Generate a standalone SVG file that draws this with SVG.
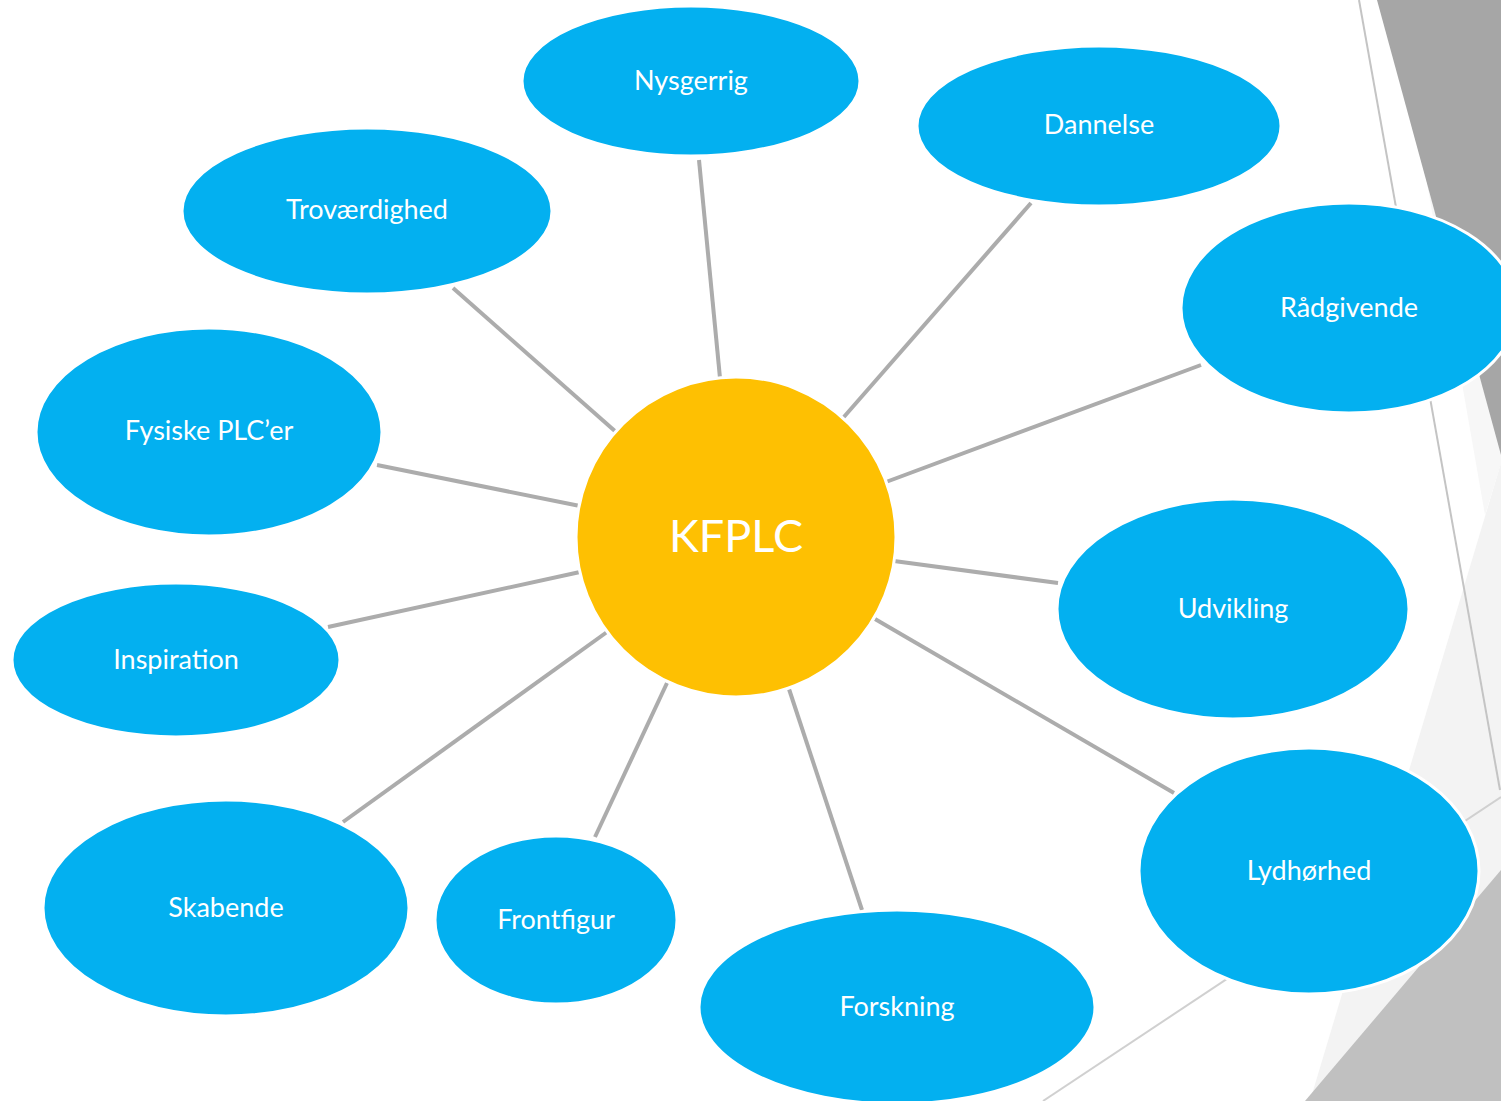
<svg xmlns="http://www.w3.org/2000/svg" width="1501" height="1101" viewBox="0 0 1501 1101">
<style>
.node ellipse, .node circle { stroke: #ffffff; stroke-width: 3; }
.leaf { fill: #03b0f0; }
.hub { fill: #fec002; }
.lbl { font-family: Lato, "Open Sans", sans-serif; font-size: 27px; fill: #ffffff; text-anchor: middle; }
.big { font-family: Lato, "Open Sans", sans-serif; font-size: 45px; fill: #ffffff; text-anchor: middle; }
.conn line { stroke: #acacac; stroke-width: 4; }
</style>
<rect width="1501" height="1101" fill="#ffffff"/>
<g id="background">
  <polygon points="1395,0 1501,0 1501,463 1485,515" fill="#f7f7f7"/>
  <polygon points="1501,463 1501,1101 1310,1101" fill="#f3f3f3"/>
  <polygon points="1501,870 1501,1101 1305,1101" fill="#c0c0c0"/>
  <polygon points="1377,0 1501,0 1501,455" fill="#a6a6a6"/>
  <line x1="1359" y1="0" x2="1500" y2="790" stroke="#c4c4c4" stroke-width="2"/>
  <line x1="1501" y1="797" x2="1043" y2="1101" stroke="#d0d0d0" stroke-width="2"/>
</g>
<g id="connectors" class="conn">
  <line x1="699" y1="160" x2="720" y2="378"/>
  <line x1="1031" y1="203" x2="843" y2="418"/>
  <line x1="453" y1="288" x2="616" y2="432"/>
  <line x1="1201" y1="365" x2="886" y2="482"/>
  <line x1="377" y1="465" x2="580" y2="506"/>
  <line x1="894" y1="561" x2="1058" y2="583"/>
  <line x1="328" y1="627" x2="580" y2="572"/>
  <line x1="875" y1="619" x2="1174" y2="793"/>
  <line x1="343" y1="822" x2="607" y2="632"/>
  <line x1="595" y1="837" x2="667" y2="683"/>
  <line x1="789" y1="689" x2="862" y2="910"/>
</g>
<g id="node-kfplc" class="node"><circle class="hub" cx="736" cy="537" r="160"/><text class="big" x="736" y="552">KFPLC</text></g>
<g id="node-nysgerrig" class="node"><ellipse class="leaf" cx="691" cy="81" rx="169" ry="75"/><text class="lbl" x="691" y="90">Nysgerrig</text></g>
<g id="node-dannelse" class="node"><ellipse class="leaf" cx="1099" cy="126" rx="182" ry="80"/><text class="lbl" x="1099" y="134">Dannelse</text></g>
<g id="node-trovaerdighed" class="node"><ellipse class="leaf" cx="367" cy="211" rx="185" ry="83"/><text class="lbl" x="367" y="219">Troværdighed</text></g>
<g id="node-raadgivende" class="node"><ellipse class="leaf" cx="1349" cy="308" rx="168" ry="105"/><text class="lbl" x="1349" y="317">Rådgivende</text></g>
<g id="node-fysiske" class="node"><ellipse class="leaf" cx="209" cy="432" rx="173" ry="104"/><text class="lbl" x="209" y="440">Fysiske PLC’er</text></g>
<g id="node-udvikling" class="node"><ellipse class="leaf" cx="1233" cy="609" rx="176" ry="110"/><text class="lbl" x="1233" y="618">Udvikling</text></g>
<g id="node-inspiration" class="node"><ellipse class="leaf" cx="176" cy="660" rx="164" ry="77"/><text class="lbl" x="176" y="669">Inspiration</text></g>
<g id="node-skabende" class="node"><ellipse class="leaf" cx="226" cy="908" rx="183" ry="108"/><text class="lbl" x="226" y="917">Skabende</text></g>
<g id="node-frontfigur" class="node"><ellipse class="leaf" cx="556" cy="920" rx="121" ry="84"/><text class="lbl" x="556" y="929">Frontfigur</text></g>
<g id="node-forskning" class="node"><ellipse class="leaf" cx="897" cy="1007" rx="198" ry="97"/><text class="lbl" x="897" y="1016">Forskning</text></g>
<g id="node-lydhorhed" class="node"><ellipse class="leaf" cx="1309" cy="871" rx="170" ry="123"/><text class="lbl" x="1309" y="880">Lydhørhed</text></g>
</svg>
